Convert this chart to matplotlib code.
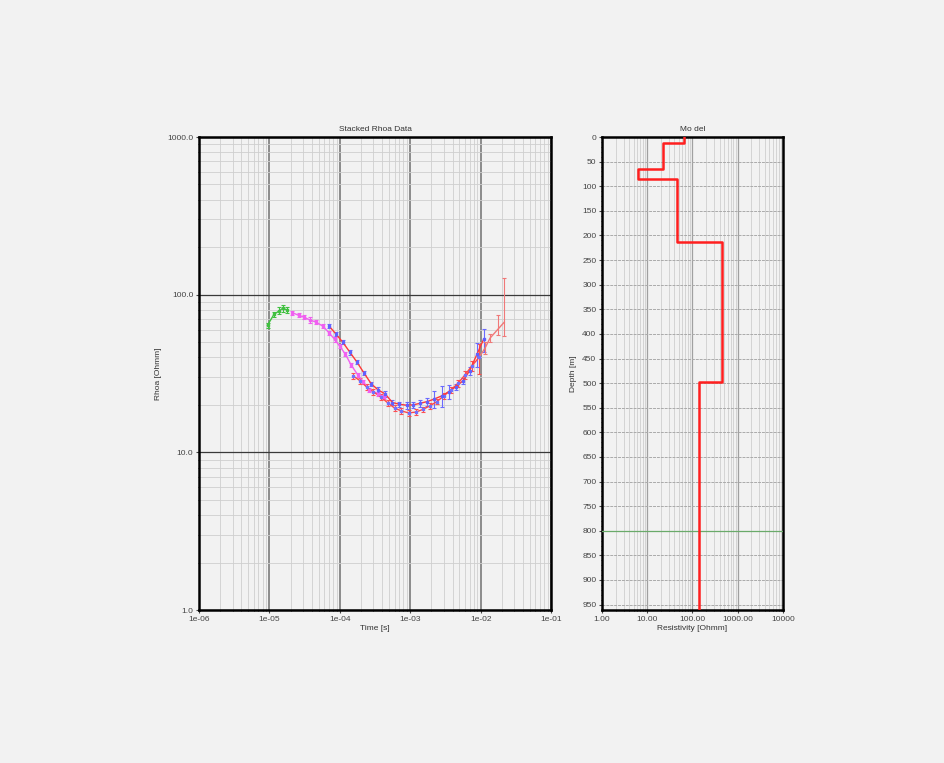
import numpy as np
import matplotlib
matplotlib.use('Agg')
import matplotlib.pyplot as plt
from matplotlib.ticker import LogLocator, FixedLocator, MultipleLocator, NullFormatter

plt.rcParams['font.family'] = ['Liberation Sans', 'DejaVu Sans']
plt.rcParams['font.size'] = 6

# Stacked rhoa data (time [s], rhoa [Ohmm], relative error)
t_green = [9.4e-6, 1.16e-5, 1.38e-5, 1.55e-5, 1.78e-5]
rho_green = [64, 75, 79, 82, 80]
err_green = [0.04, 0.04, 0.05, 0.05, 0.04]

t_mag = [2.1e-5, 2.6e-5, 3.1e-5, 3.8e-5, 4.6e-5, 5.8e-5, 7.1e-5, 8.5e-5, 1.0e-4,
         1.2e-4, 1.44e-4, 1.8e-4, 2.16e-4, 2.6e-4, 3.5e-4, 4.2e-4]
rho_mag = [77, 74, 72, 69, 67, 63, 57, 52, 47, 42, 36, 31, 28, 25, 23.5, 22.5]
err_mag = [0.03, 0.03, 0.03, 0.04, 0.03, 0.03, 0.03, 0.03, 0.03, 0.03, 0.03,
           0.03, 0.03, 0.03, 0.03, 0.03]

t_up = [7.1e-5, 8.9e-5, 1.1e-4, 1.4e-4, 1.75e-4, 2.2e-4, 2.8e-4, 3.5e-4, 4.4e-4,
        5.6e-4, 7.0e-4, 8.9e-4, 1.1e-3, 1.4e-3, 1.75e-3, 2.2e-3, 2.8e-3, 3.5e-3,
        4.4e-3, 5.6e-3, 7.0e-3, 8.9e-3, 1.1e-2]
rho_up = [63, 56, 50, 43, 37.4, 31.9, 27.2, 24.9, 23.5, 20.7, 20.2, 19.9, 20.0,
          20.5, 21.0, 21.8, 22.8, 24.2, 26.0, 28.4, 33, 42, 52]
err_up = [0.03, 0.03, 0.03, 0.03, 0.03, 0.03, 0.03, 0.04, 0.04, 0.04, 0.04, 0.05,
          0.05, 0.05, 0.06, 0.12, 0.15, 0.10, 0.05, 0.05, 0.06, 0.17, 0.17]

t_low = [1.55e-4, 1.95e-4, 2.4e-4, 3.0e-4, 3.8e-4, 4.8e-4, 6.0e-4, 7.5e-4, 9.5e-4,
         1.2e-3, 1.5e-3, 1.9e-3, 2.4e-3, 3.0e-3, 3.8e-3, 4.8e-3, 6.0e-3, 7.5e-3,
         9.5e-3]
rho_low = [30.5, 28.4, 26.0, 24.2, 22.5, 20.6, 19.1, 18.3, 17.8, 18.0, 18.7, 19.7,
           21.0, 22.8, 24.9, 27.5, 31.0, 35.3, 40]
err_low = [0.04, 0.04, 0.04, 0.04, 0.04, 0.04, 0.04, 0.04, 0.04, 0.04, 0.04, 0.04,
           0.04, 0.04, 0.04, 0.05, 0.06, 0.07, 0.22]

t_late = [1.16e-2, 1.36e-2, 1.74e-2, 2.17e-2]
rho_late = [46, 53, 60, 67]
err_late_lo = [4, 3, 4.5, 12]
err_late_hi = [4, 3, 14, 61]

# Layered model
res_model = [65, 22, 6.2, 45, 457, 141]
top_model = [0, 11.5, 64, 85, 213.5, 498.6]
depth_max = 961
doi_depth = 800

x_labels_time = ['1e-06', '1e-05', '1e-04', '1e-03', '1e-02', '1e-01']
y_labels_rho = ['1.0', '10.0', '100.0', '1000.0']
x_labels_res = ['1.00', '10.00', '100.00', '1000.00', '10000']

bg = '#f2f2f2'
fig = plt.figure(figsize=(9.44, 7.63), dpi=100, facecolor=bg)

# ---- Left panel: data ----
ax1 = fig.add_axes([0.2108, 0.2005, 0.3729, 0.6199], facecolor=bg)
ax1.set_xscale('log')
ax1.set_yscale('log')
ax1.set_xlim(1e-6, 1e-1)
ax1.set_ylim(1, 1000)

ax1.xaxis.set_major_locator(FixedLocator([1e-6, 1e-5, 1e-4, 1e-3, 1e-2, 1e-1]))
ax1.set_xticklabels(x_labels_time)
ax1.yaxis.set_major_locator(FixedLocator([1, 10, 100, 1000]))
ax1.set_yticklabels(y_labels_rho)
ax1.xaxis.set_minor_locator(LogLocator(base=10, subs=np.arange(2, 10), numticks=20))
ax1.yaxis.set_minor_locator(LogLocator(base=10, subs=np.arange(2, 10), numticks=20))
ax1.xaxis.set_minor_formatter(NullFormatter())
ax1.yaxis.set_minor_formatter(NullFormatter())

ax1.grid(which='minor', color='#cfcfcf', linewidth=0.6)
ax1.grid(which='major', axis='x', color='#8c8c8c', linewidth=1.4)
ax1.grid(which='major', axis='y', color='#3a3a3a', linewidth=0.9)
ax1.set_axisbelow(True)


def draw_series(ax, t, rho, err, line_col, mark_col, bar_col):
    yerr = np.array(rho) * np.array(err)
    ax.errorbar(t, rho, yerr=yerr, fmt='none', ecolor=bar_col, elinewidth=0.8,
                capsize=1.5, capthick=0.8, zorder=3)
    ax.plot(t, rho, color=line_col, linewidth=1.0, zorder=4)
    ax.plot(t, rho, linestyle='none', marker='s', markersize=1.5,
            color=mark_col, zorder=5)


draw_series(ax1, t_green, rho_green, err_green, '#40c040', '#40c040', '#40c040')
draw_series(ax1, t_mag, rho_mag, err_mag, '#f060f0', '#f060f0', '#f060f0')
draw_series(ax1, t_low, rho_low, err_low, '#ff4848', '#7070ff', '#ff5050')
draw_series(ax1, t_up, rho_up, err_up, '#ff3838', '#6060ff', '#6a6aff')

ax1.errorbar(t_late, rho_late, yerr=[err_late_lo, err_late_hi], fmt='none',
             ecolor='#f07878', elinewidth=0.8, capsize=1.5, capthick=0.8, zorder=3)
ax1.plot([t_low[-1]] + t_late, [rho_low[-1]] + rho_late,
         color='#f07878', linewidth=1.0, zorder=4)

ax1.set_title('Stacked Rhoa Data', fontsize=6, pad=4, color='#333333')
ax1.set_xlabel('Time [s]', fontsize=6, labelpad=2, color='#333333')
ax1.set_ylabel('Rhoa [Ohmm]', fontsize=6, labelpad=4, color='#333333')
ax1.tick_params(which='major', length=2, width=0.8, pad=2, labelsize=6, colors='#444444')
ax1.tick_params(which='minor', length=1, width=0.5)
for s in ax1.spines.values():
    s.set_linewidth(1.8)
    s.set_color('black')

# ---- Right panel: model ----
ax2 = fig.add_axes([0.6377, 0.2005, 0.1917, 0.6199], facecolor=bg)
ax2.set_xscale('log')
ax2.set_xlim(1, 10000)
ax2.set_ylim(depth_max, 0)

ax2.xaxis.set_major_locator(FixedLocator([1, 10, 100, 1000, 10000]))
ax2.set_xticklabels(x_labels_res)
ax2.xaxis.set_minor_locator(LogLocator(base=10, subs=np.arange(2, 10), numticks=20))
ax2.xaxis.set_minor_formatter(NullFormatter())
ax2.yaxis.set_major_locator(MultipleLocator(50))
ax2.yaxis.set_minor_locator(MultipleLocator(10))

ax2.grid(which='minor', axis='x', color='#cfcfcf', linewidth=0.6)
ax2.grid(which='major', axis='x', color='#a0a0a0', linewidth=0.9)
ax2.grid(which='major', axis='y', color='#aaaaaa', linewidth=0.7, linestyle=(0, (3, 1)))
ax2.set_axisbelow(True)

# step profile built from the layer lists
depth_edges = top_model[1:] + [depth_max]
step_x = np.repeat(res_model, 2)
step_y = np.ravel(list(zip(top_model, depth_edges)))
ax2.plot(step_x, step_y, color='#ff1f1f', linewidth=1.8, zorder=4)

ax2.axhline(doi_depth, color='#6aaa6a', linewidth=0.9, zorder=3)

ax2.set_title('Mo del', fontsize=6, pad=4, color='#333333')
ax2.set_xlabel('Resistivity [Ohmm]', fontsize=6, labelpad=2, color='#333333')
ax2.set_ylabel('Depth [m]', fontsize=6, labelpad=4, color='#333333')
ax2.tick_params(which='major', length=2, width=0.8, pad=2, labelsize=6, colors='#444444')
ax2.tick_params(which='minor', length=1, width=0.5)
for s in ax2.spines.values():
    s.set_linewidth(1.8)
    s.set_color('black')

plt.savefig('out.png', dpi=100, facecolor=bg)
